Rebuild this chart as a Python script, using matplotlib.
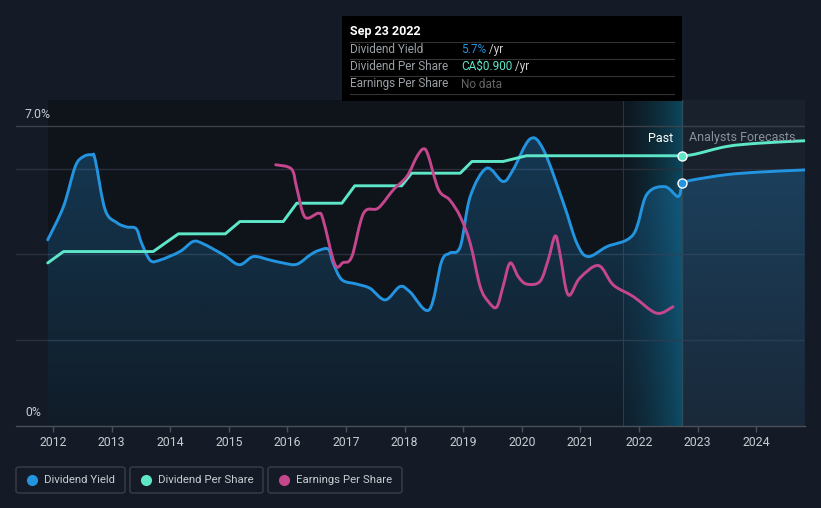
import matplotlib
matplotlib.use("Agg")
import matplotlib.pyplot as plt
import numpy as np
from matplotlib.colors import LinearSegmentedColormap, to_rgb
from matplotlib.patches import FancyBboxPatch, Rectangle, PathPatch
from matplotlib.path import Path

plt.rcParams['font.family'] = ['Roboto', 'DejaVu Sans']

# ---------------- data (decimal years) ----------------
yield_x = [2011.91, 2012.18, 2012.38, 2012.52, 2012.66, 2012.72, 2012.89, 2013.09, 2013.26, 2013.42,
           2013.51, 2013.66, 2013.83, 2014.17, 2014.39, 2014.56, 2014.91, 2015.18, 2015.42, 2015.70,
           2015.93, 2016.16, 2016.39, 2016.53, 2016.70, 2016.78, 2016.93, 2017.18, 2017.41, 2017.67,
           2017.92, 2018.09, 2018.42, 2018.63, 2018.77, 2018.95, 2019.12, 2019.40, 2019.68, 2019.85,
           2020.14, 2020.37, 2020.71, 2020.94, 2021.13, 2021.45, 2021.90, 2022.13, 2022.44, 2022.67,
           2022.73]
yield_y = [4.34, 5.12, 6.05, 6.28, 6.32, 6.21, 5.04, 4.74, 4.64, 4.60,
           4.27, 3.86, 3.87, 4.07, 4.30, 4.25, 3.99, 3.76, 3.95, 3.87,
           3.80, 3.77, 3.99, 4.09, 4.12, 3.80, 3.41, 3.31, 3.21, 2.94,
           3.25, 3.13, 2.71, 3.83, 4.03, 4.18, 5.35, 6.01, 5.70, 5.97,
           6.69, 6.44, 5.20, 4.26, 3.95, 4.18, 4.46, 5.39, 5.58, 5.35,
           5.67]
yield_fc_x = [2022.73, 2022.93, 2023.50, 2024.06, 2024.83]
yield_fc_y = [5.67, 5.74, 5.86, 5.92, 5.97]

dps_x = [2011.91, 2012.18, 2013.71, 2014.14, 2014.94, 2015.19, 2015.93, 2016.16, 2016.93, 2017.15,
         2017.95, 2018.12, 2018.95, 2019.15, 2019.68, 2020.08, 2022.73]
dps_y = [0.543, 0.581, 0.581, 0.640, 0.640, 0.681, 0.681, 0.742, 0.742, 0.800,
         0.800, 0.842, 0.842, 0.881, 0.881, 0.900, 0.900]
dps_fc_x = [2022.73, 2022.95, 2023.50, 2024.06, 2024.83]
dps_fc_y = [0.900, 0.905, 0.931, 0.942, 0.950]

eps_x = [2015.80, 2016.07, 2016.16, 2016.30, 2016.53, 2016.61, 2016.81, 2016.95, 2017.10, 2017.30,
         2017.55, 2017.81, 2018.04, 2018.21, 2018.32, 2018.40, 2018.58, 2018.77, 2018.95, 2019.12,
         2019.29, 2019.43, 2019.57, 2019.68, 2019.80, 2019.94, 2020.08, 2020.31, 2020.45, 2020.57,
         2020.65, 2020.79, 2020.99, 2021.31, 2021.56, 2021.90, 2022.30, 2022.58]
eps_y = [6.09, 5.99, 5.55, 4.87, 4.96, 4.81, 3.77, 3.81, 3.95, 4.96,
         5.08, 5.51, 5.82, 6.28, 6.46, 6.32, 5.51, 5.27, 4.88, 4.26,
         3.25, 2.90, 2.77, 3.25, 3.80, 3.48, 3.31, 3.37, 3.87, 4.43,
         4.03, 3.06, 3.45, 3.74, 3.29, 3.02, 2.63, 2.78]

year_ticks = list(range(2012, 2025))
now_x = 2022.73
past_start = 2021.73
data_start = 2011.91
x_min, x_max = 2011.369, 2024.833

# ---------------- styles ----------------
BG = '#151b26'
PAST_BG = '#0f131a'
FC_BG = '#19212d'
BLUE = '#2394df'
TEAL = '#5ee6c8'
PINK = '#c4468c'
GRID = '#2a303b'
TXT = '#c8ccd2'


def smooth_path(xs, ys, tension=6.0):
    """Catmull-Rom style cubic Bezier path through the given points."""
    xs = np.asarray(xs, float); ys = np.asarray(ys, float)
    verts = [(xs[0], ys[0])]
    codes = [Path.MOVETO]
    n = len(xs)
    for i in range(n - 1):
        x0, y0 = (xs[i - 1], ys[i - 1]) if i > 0 else (xs[i], ys[i])
        x1, y1 = xs[i], ys[i]
        x2, y2 = xs[i + 1], ys[i + 1]
        x3, y3 = (xs[i + 2], ys[i + 2]) if i + 2 < n else (x2, y2)
        c1 = (x1 + (x2 - x0) / tension, y1 + (y2 - y0) / tension)
        c2 = (x2 - (x3 - x1) / tension, y2 - (y3 - y1) / tension)
        verts += [c1, c2, (x2, y2)]
        codes += [Path.CURVE4] * 3
    return Path(verts, codes)


def smooth_line(a, xs, ys, color, z):
    p = PathPatch(smooth_path(xs, ys), facecolor='none', edgecolor=color, lw=2.1,
                  zorder=z, capstyle='round', joinstyle='round')
    a.add_patch(p)


fig = plt.figure(figsize=(8.21, 5.08), dpi=100, facecolor=BG)
ax = fig.add_axes([16/821, (508-426)/508, 789/821, 326/508])
ax.set_facecolor(BG)
Y_TOP = 7.6
ax.set_xlim(x_min, x_max)
ax.set_ylim(0, Y_TOP)

# background zones
ax.axvspan(data_start, now_x, color=PAST_BG, zorder=0, lw=0)
ax.axvspan(now_x, x_max, color=FC_BG, zorder=0, lw=0)

# past-year highlight gradient
hl = np.linspace(0, 1, 256).reshape(1, -1)
cm_hl = LinearSegmentedColormap.from_list('hl', [(0.05, 0.2, 0.25, 0.12), (0.05, 0.33, 0.43, 0.8)])
ax.imshow(hl, extent=[past_start, now_x, 0, Y_TOP], aspect='auto', cmap=cm_hl, zorder=1,
          interpolation='bilinear')
ax.axvline(past_start, color='#1d3a46', lw=0.8, zorder=1.1)

# grid lines
for g in [2, 4, 6]:
    ax.axhline(g, color=GRID, lw=1, zorder=1.5)
ax.axhline(7.0, color='#3b414b', lw=1, zorder=1.5)

# gradient fill under yield (past + forecast), following the smoothed line
fx = yield_x + yield_fc_x[1:]
fy = yield_y + yield_fc_y[1:]
sp = smooth_path(fx, fy)
fill_verts = list(sp.vertices) + [(fx[-1], 0), (fx[0], 0), (fx[0], fy[0])]
fill_codes = list(sp.codes) + [Path.LINETO, Path.LINETO, Path.CLOSEPOLY]
fill_path = Path(fill_verts, fill_codes)
r, g_, b = to_rgb(BLUE)
grad = np.zeros((256, 1, 4))
grad[:, 0, 0] = r; grad[:, 0, 1] = g_; grad[:, 0, 2] = b
grad[:, 0, 3] = np.linspace(0.30, 0.07, 256)
im = ax.imshow(grad, extent=[data_start, x_max, 0, 7.0], aspect='auto', zorder=2,
               interpolation='bilinear', origin='upper')
im.set_clip_path(fill_path, transform=ax.transData)
ax.set_xlim(x_min, x_max)
ax.set_ylim(0, Y_TOP)

# now line
ax.plot([now_x, now_x], [0, Y_TOP], color='#2d4b58', lw=1, zorder=2.5)

# yield lines
smooth_line(ax, yield_x, yield_y, BLUE, 5)
smooth_line(ax, yield_fc_x, yield_fc_y, BLUE, 5)
ax.plot([yield_x[-1]], [yield_y[-1]], 'o', ms=6.5, color=BLUE, mec='white', mew=1, zorder=8)

# dividend per share on its own axis
ax2 = ax.twinx()
ax2.set_ylim(0, Y_TOP / 7.0)
ax2.plot(dps_x, dps_y, color=TEAL, lw=2.1, zorder=5, solid_capstyle='round', solid_joinstyle='round')
smooth_line(ax2, dps_fc_x, dps_fc_y, TEAL, 5)
ax2.plot([dps_x[-1]], [dps_y[-1]], 'o', ms=6.5, color=TEAL, mec='white', mew=1, zorder=8)

# earnings per share on its own axis
ax3 = ax.twinx()
ax3.set_ylim(0, Y_TOP)
smooth_line(ax3, eps_x, eps_y, PINK, 4)

for a in (ax, ax2, ax3):
    a.set_xlim(x_min, x_max)
    for s in a.spines.values():
        s.set_visible(False)
    a.tick_params(left=False, right=False, labelleft=False, labelright=False)
ax2.patch.set_visible(False)
ax3.patch.set_visible(False)
ax2.set_yticks([]); ax3.set_yticks([])
ax2.set_ylim(0, Y_TOP / 7.0)
ax3.set_ylim(0, Y_TOP)

ax.spines['bottom'].set_visible(True)
ax.spines['bottom'].set_color('#4a505a')
ax.spines['bottom'].set_linewidth(1)
ax.set_yticks([])
ax.set_xticks(year_ticks)
ax.set_xticklabels([str(y) for y in year_ticks])
ax.tick_params(axis='x', colors='#4a505a', labelcolor=TXT, labelsize=8.8, length=4, width=1, pad=3)
for a in (ax2, ax3):
    a.tick_params(axis='x', bottom=False, labelbottom=False)

# y labels
fig.text(25/821, (508-114)/508, '7.0%', color=TXT, fontsize=8.8, va='center', ha='left')
fig.text(25/821, (508-413)/508, '0%', color=TXT, fontsize=8.8, va='center', ha='left')

# Past / forecasts labels
fig.text(673/821, (508-138)/508, 'Past', color='white', fontsize=9, ha='right', va='center')
fig.text(689/821, (508-138)/508, 'Analysts Forecasts', color='#8a9099', fontsize=9, ha='left', va='center')

# tooltip
tip = Rectangle((342/821, (508-101)/508), 340/821, 85/508, transform=fig.transFigure,
                facecolor='black', edgecolor='none', zorder=10)
fig.patches.append(tip)
fig.text(350/821, (508-31)/508, 'Sep 23 2022', color='white', fontsize=9, fontweight='bold',
         va='center', ha='left', zorder=11)
for yy in [41.5, 59, 76, 93.5]:
    fig.add_artist(plt.Line2D([350/821, 674/821], [(508-yy)/508]*2, transform=fig.transFigure,
                              color='#333333', lw=0.8, zorder=11))
rows = [('Dividend Yield', 49.5, [('5.7%', BLUE), (' /yr', '#d0d0d0')]),
        ('Dividend Per Share', 66.5, [('CA\\$0.900', TEAL), (' /yr', '#d0d0d0')]),
        ('Earnings Per Share', 84, [('No data', '#666666')])]
renderer = fig.canvas.get_renderer()
for label, yy, parts in rows:
    fig.text(350/821, (508-yy)/508, label, color='#9aa0a6', fontsize=8.5, va='center', ha='left', zorder=11)
    xx = 461
    for txt, col in parts:
        t = fig.text(xx/821, (508-yy)/508, txt, color=col, fontsize=8.5, va='center', ha='left', zorder=11)
        bb = t.get_window_extent(renderer=renderer)
        xx += bb.width

# legend boxes
legend = [('Dividend Yield', BLUE, 16, 125), ('Dividend Per Share', TEAL, 130, 263),
          ('Earnings Per Share', PINK, 268, 402)]
for name, col, x0, x1 in legend:
    box = FancyBboxPatch((x0/821, (508-493)/508), (x1-x0)/821, 26/508,
                         boxstyle='round,pad=0,rounding_size=0.004', transform=fig.transFigure,
                         facecolor='none', edgecolor='#3a404a', lw=1)
    fig.patches.append(box)
    fig.add_artist(plt.Line2D([(x0+16)/821], [(508-480)/508], marker='o', ms=7, color=col,
                              mec=col, transform=fig.transFigure, ls='none'))
    fig.text((x0+28)/821, (508-480)/508, name, color=TXT, fontsize=8.2, va='center', ha='left')

fig.savefig('out.png', dpi=100, facecolor=BG)
